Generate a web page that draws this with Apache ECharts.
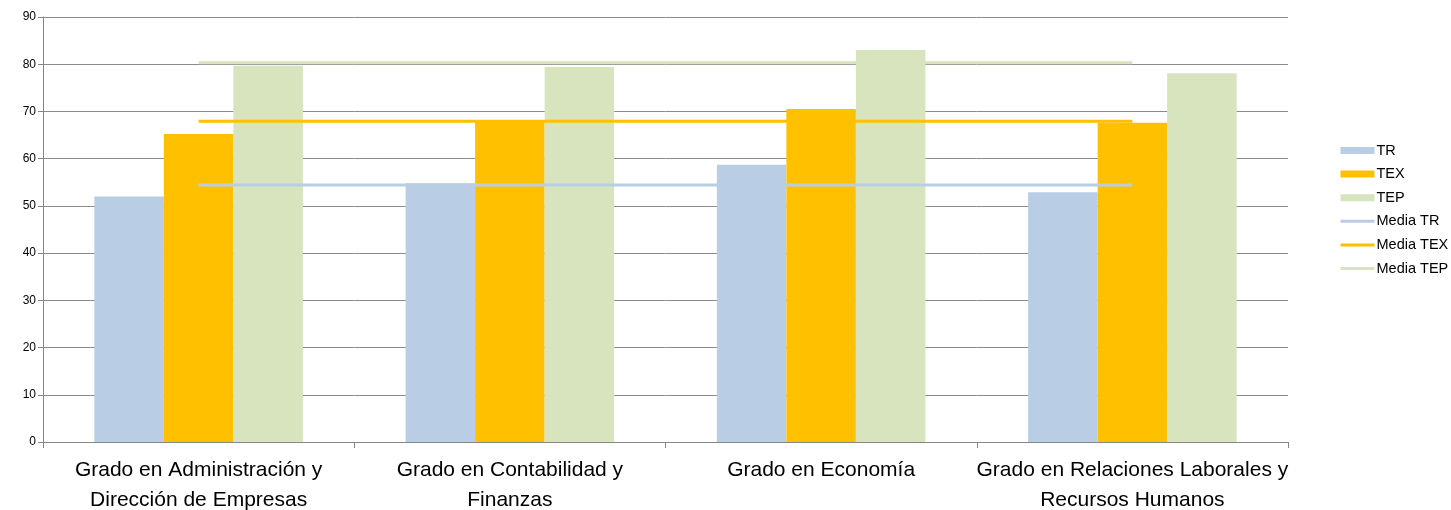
<!DOCTYPE html>
<html><head><meta charset="utf-8">
<script src="https://cdn.jsdelivr.net/npm/echarts@6/dist/echarts.min.js"></script>
<style>html,body{margin:0;padding:0;background:#fff}#c{width:1451px;height:510px}</style>
</head><body><div id="c"></div>
<script>
const categories = ["Grado en Administración y\nDirección de Empresas", "Grado en Contabilidad y\nFinanzas", "Grado en Economía", "Grado en Relaciones Laborales y\nRecursos Humanos"];
const TR = [52.0, 54.8, 58.7, 52.9];
const TEX = [65.2, 68.2, 70.5, 67.6];
const TEP = [79.7, 79.4, 83.0, 78.1];
const mediaTR = [54.4, 54.4, 54.4, 54.4];
const mediaTEX = [67.9, 67.9, 67.9, 67.9];
const mediaTEP = [80.3, 80.3, 80.3, 80.3];
const yTicks = {min: 0, max: 90, interval: 10};

const cTR = '#B9CDE5', cTEX = '#FFC000', cTEP = '#D7E4BD';
const font = 'Liberation Sans';
const chart = echarts.init(document.getElementById('c'));
function bar(name, data, color) {
  return {name, type: 'bar', data, barGap: '0%', barCategoryGap: '33%', itemStyle: {color}, z: 2};
}
function line(name, data, color) {
  return {name, type: 'line', data, symbol: 'none', showSymbol: false, lineStyle: {color, width: 3}, itemStyle: {color}, z: 3};
}
chart.setOption({
  animation: false,
  textStyle: {fontFamily: font},
  grid: {left: 43, right: 163, top: 17, bottom: 68, containLabel: false, outerBoundsMode: 'none'},
  legend: {
    orient: 'vertical', left: 1339, top: 143, padding: 0, itemWidth: 34, itemHeight: 7, itemGap: 8.6,
    textStyle: {fontSize: 14.5, color: '#000', fontFamily: font, padding: [0, 0, 0, -3]},
    data: [
      {name: 'TR', icon: 'rect'}, {name: 'TEX', icon: 'rect'}, {name: 'TEP', icon: 'rect'},
      {name: 'Media TR', itemStyle: {opacity: 0}, lineStyle: {color: cTR, width: 3}},
      {name: 'Media TEX', itemStyle: {opacity: 0}, lineStyle: {color: cTEX, width: 3}},
      {name: 'Media TEP', itemStyle: {opacity: 0}, lineStyle: {color: cTEP, width: 3}}
    ]
  },
  xAxis: {
    type: 'category', data: categories, boundaryGap: true,
    axisLine: {lineStyle: {color: '#868686', width: 1}},
    axisTick: {show: true, length: 6, lineStyle: {color: '#868686'}},
    axisLabel: {fontSize: 21, color: '#000', lineHeight: 30, margin: 13, fontFamily: font, interval: 0}
  },
  yAxis: {
    type: 'value', min: yTicks.min, max: yTicks.max, interval: yTicks.interval,
    axisLine: {show: true, lineStyle: {color: '#868686', width: 1}},
    axisTick: {show: true, length: 5, lineStyle: {color: '#868686'}},
    splitLine: {lineStyle: {color: '#8c8c8c', width: 1}},
    axisLabel: {fontSize: 12, color: '#000', margin: 7, fontFamily: font}
  },
  series: [
    bar('TR', TR, cTR), bar('TEX', TEX, cTEX), bar('TEP', TEP, cTEP),
    line('Media TR', mediaTR, cTR), line('Media TEX', mediaTEX, cTEX), line('Media TEP', mediaTEP, cTEP)
  ]
});
</script></body></html>
